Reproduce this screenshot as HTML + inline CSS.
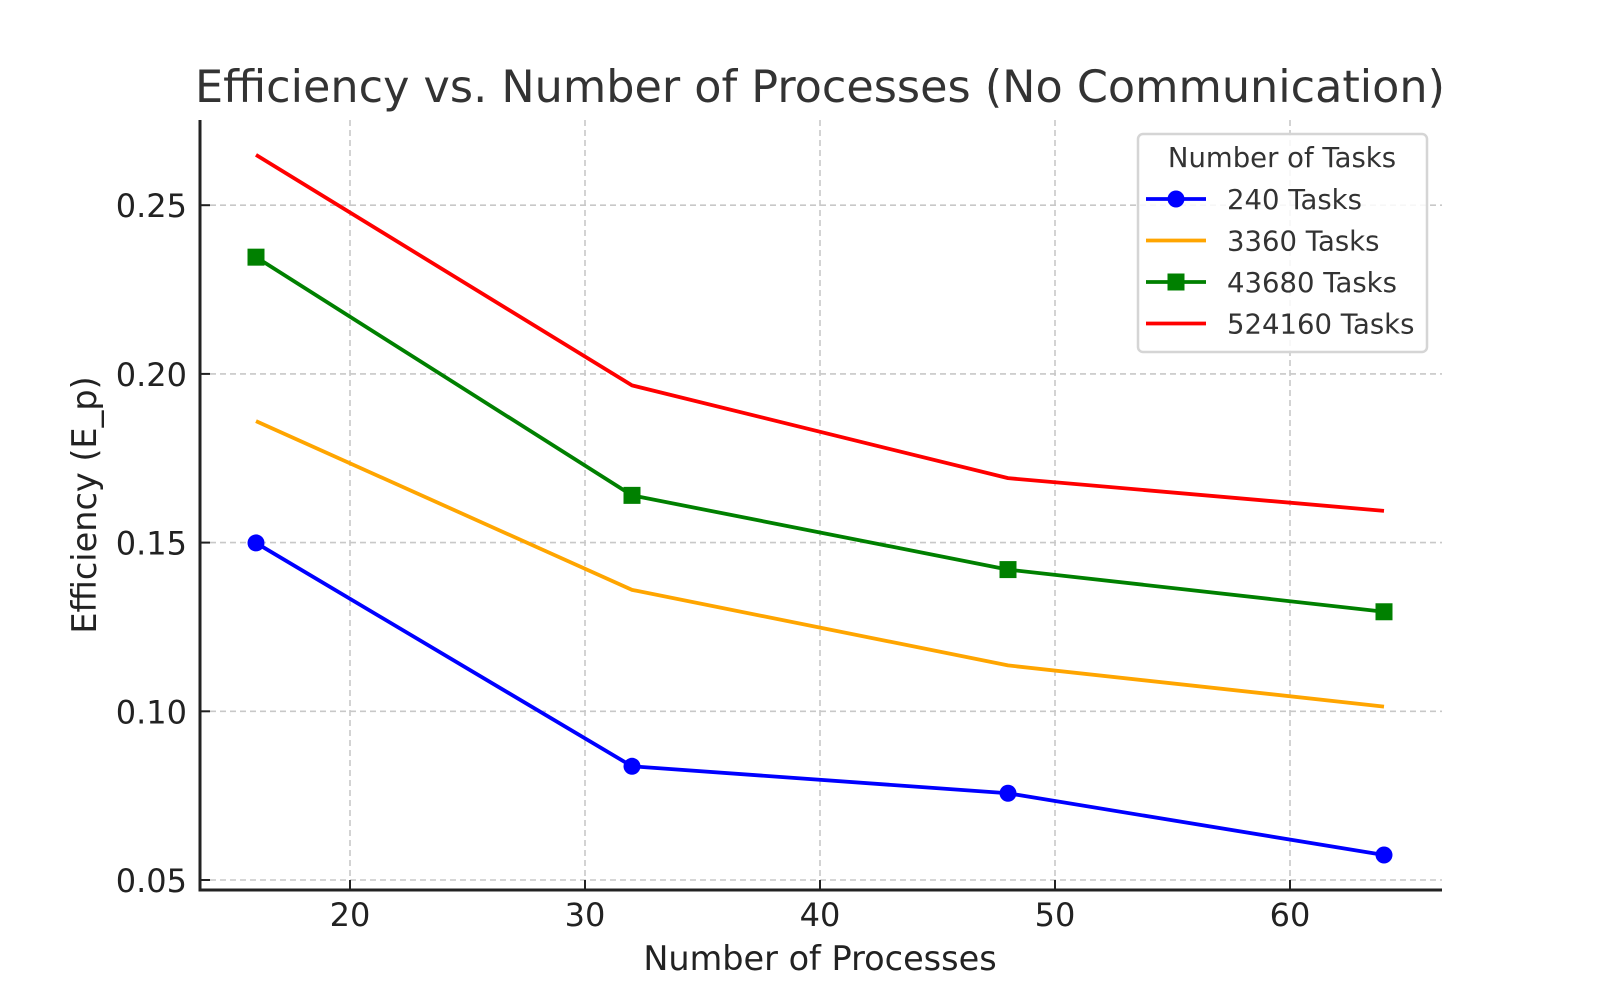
<!DOCTYPE html>
<html><head><meta charset="utf-8"><style>
body{margin:0;background:#fff}
svg{display:block;font-family:"DejaVu Sans","Liberation Sans",sans-serif}
</style></head><body>
<svg id="chart" width="1600" height="1000" viewBox="0 0 1600 1000">
<text x="820" y="102" font-size="44.5" fill="#333" text-anchor="middle">Efficiency vs. Number of Processes (No Communication)</text>
<g id="grid"></g>
<g id="series"></g>
<g id="axes"></g>
<text x="820" y="970" font-size="33.5" fill="#222" text-anchor="middle">Number of Processes</text>
<text transform="translate(96,505) rotate(-90)" font-size="33.5" fill="#222" text-anchor="middle">Efficiency (E_p)</text>
<g id="legend">
<rect x="1138" y="134" width="289" height="218" rx="5" fill="#fff" fill-opacity="0.85" stroke="#d5d5d5" stroke-width="2.5"/>
<text x="1282" y="167" font-size="27.5" fill="#333" text-anchor="middle">Number of Tasks</text>
</g>
</svg>
<script>
const xValues=[16,32,48,64];
const seriesNames=["240 Tasks","3360 Tasks","43680 Tasks","524160 Tasks"];
const s240=[0.1499,0.0837,0.0757,0.0574];
const s3360=[0.186,0.136,0.1136,0.1014];
const s43680=[0.2346,0.164,0.142,0.1295];
const s524160=[0.2649,0.1966,0.1691,0.1594];
const xTicks=[20,30,40,50,60];
const yTicks=[0.05,0.10,0.15,0.20,0.25];
const yTickLabels=["0.05","0.10","0.15","0.20","0.25"];
const colors=["#0000ff","#ffa500","#008000","#ff0000"];
const markers=["circle","none","square","none"];
const NS="http://www.w3.org/2000/svg";
const X=v=>350+23.5*(v-20);
const Y=v=>880-(v-0.05)*3374;
function mk(tag,attrs,parent){const e=document.createElementNS(NS,tag);for(const k in attrs)e.setAttribute(k,attrs[k]);parent.appendChild(e);return e;}
const grid=document.getElementById('grid'),axes=document.getElementById('axes'),ser=document.getElementById('series'),leg=document.getElementById('legend');
xTicks.forEach(t=>{
 const l=mk('line',{x1:X(t),x2:X(t),y1:120,y2:890,stroke:'#c8c8c8','stroke-width':1.6,'stroke-dasharray':'6,4'},grid);
 
 
 const tk=mk('line',{x1:X(t),x2:X(t),y1:890,y2:880,stroke:'#222','stroke-width':2},axes);
 
 
 const tx=mk('text',{x:X(t),y:926,'font-size':32,fill:'#222','text-anchor':'middle'},axes);
 tx.textContent=t;
 
 
});
yTicks.forEach((t,i)=>{
 const l=mk('line',{x1:200,x2:1442,y1:Y(t),y2:Y(t),stroke:'#c8c8c8','stroke-width':1.6,'stroke-dasharray':'6,4'},grid);
 
 
 const tk=mk('line',{x1:200,x2:210,y1:Y(t),y2:Y(t),stroke:'#222','stroke-width':2},axes);
 
 
 const tx=mk('text',{x:187,y:Y(t)+12,'font-size':32,fill:'#222','text-anchor':'end'},axes);
 tx.textContent=yTickLabels[i];
 
 
});
const ax=mk('path',{d:'M200,120 L200,890 L1442,890',fill:'none',stroke:'#222','stroke-width':3},axes);


function marker(type,cx,cy,color,parent){
 if(type==='circle')return mk('circle',{cx:cx,cy:cy,r:8.5,fill:color},parent);
 if(type==='square')return mk('rect',{x:cx-8.5,y:cy-8.5,width:17,height:17,fill:color},parent);
 return null;
}
[s240,s3360,s43680,s524160].forEach((vals,si)=>{
 const g=mk('g',{},ser);
 
 
 const pts=vals.map((v,i)=>X(xValues[i])+','+Y(v)).join(' ');
 const pl=mk('polyline',{points:pts,fill:'none',stroke:colors[si],'stroke-width':3.8,'stroke-linejoin':'round'},g);
 
 
 vals.forEach((v,i)=>{const m=marker(markers[si],X(xValues[i]),Y(v),colors[si],g);
  if(m){
  }});
 const ly=199+si*41.5;
 const lg=mk('g',{},leg);
 
 
 mk('line',{x1:1146,x2:1206,y1:ly,y2:ly,stroke:colors[si],'stroke-width':3.8},lg);
 marker(markers[si],1176,ly,colors[si],lg);
 const t=mk('text',{x:1227,y:ly+10,'font-size':27.5,fill:'#333'},lg);
 t.textContent=seriesNames[si];
});
</script>
</body></html>
